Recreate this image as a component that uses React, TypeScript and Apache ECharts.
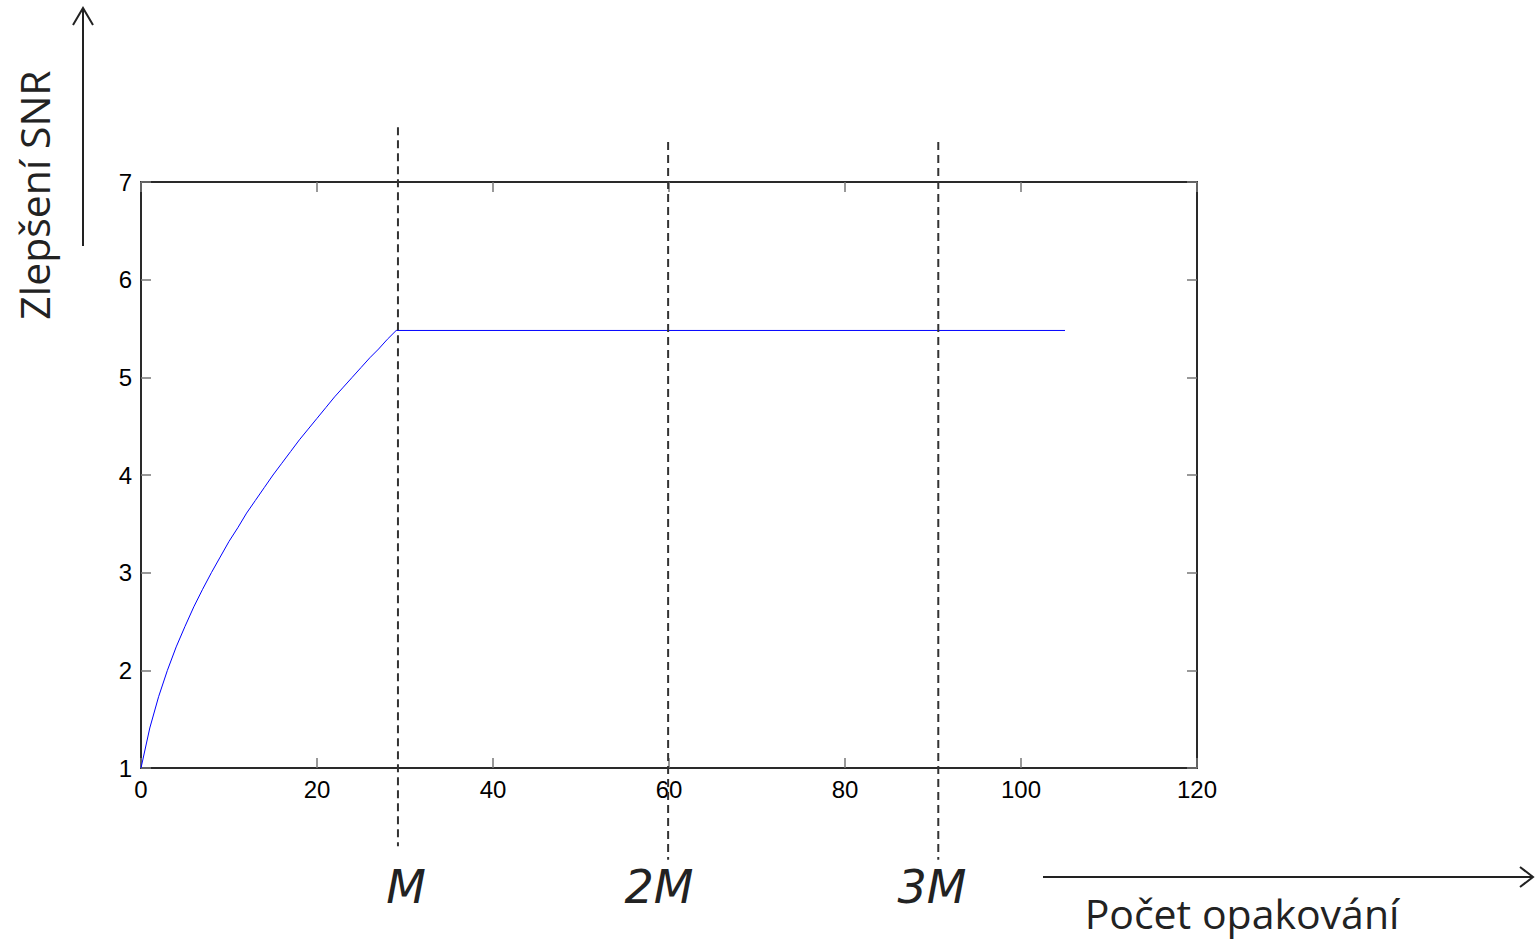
import React, { useEffect, useRef } from "react";
import * as echarts from "echarts";

// Curve: number of repetitions (x) vs SNR improvement (y)
const curveX = [0, 1, 2, 3, 4, 5, 6, 7, 8, 9, 10, 11, 12, 13, 14, 15, 16, 17, 18, 19, 20, 21, 22, 23, 24, 25, 26, 27, 28, 29, 105];
const curveY = [1.0, 1.41, 1.73, 2.0, 2.24, 2.45, 2.65, 2.83, 3.0, 3.16, 3.32, 3.46, 3.61, 3.74, 3.87, 4.0, 4.12, 4.24, 4.36, 4.47, 4.58, 4.69, 4.8, 4.9, 5.0, 5.1, 5.2, 5.29, 5.39, 5.48, 5.48];

// Dashed marker lines (M, 2M, 3M) on the x scale, with their vertical extents in y units
const markerX = [29.2, 59.9, 90.6];
const markerTop = [7.56, 7.41, 7.41];
const markerBottom = [0.2, 0.06, 0.06];
const markerLabels = ["M", "2M", "3M"];

const xTicks = { min: 0, max: 120, interval: 20 };
const yTicks = { min: 1, max: 7, interval: 1 };

const yTitle = "Zlepšení SNR";
const xTitle = "Počet opakování";

export default function App() {
  const ref = useRef<HTMLDivElement>(null);

  useEffect(() => {
    if (!ref.current) return;
    const chart = echarts.init(ref.current, null, { renderer: "svg" });
    const axisLine = { show: true, onZero: false, lineStyle: { color: "#2a2a2a", width: 2 } };
    const axisTick = { show: true, inside: true, length: 10, lineStyle: { color: "#777", width: 1.5 } };
    const labelStyle = { color: "#000", fontFamily: "Liberation Sans", fontSize: 24 };

    const data = curveX.map((x, i) => [x, curveY[i]]);
    const markers = markerX.map((x, i) => [x, markerTop[i], markerBottom[i], i]);

    chart.setOption({
      animation: false,
      backgroundColor: "#fff",
      grid: { left: 141, right: 341, top: 182, bottom: 174, containLabel: false },
      xAxis: [
        {
          type: "value",
          position: "bottom",
          ...xTicks,
          axisLine,
          axisTick,
          splitLine: { show: false },
          axisLabel: { ...labelStyle, margin: 9 },
        },
        {
          type: "value",
          position: "top",
          ...xTicks,
          axisLine,
          axisTick,
          splitLine: { show: false },
          axisLabel: { show: false },
        },
      ],
      yAxis: [
        {
          type: "value",
          position: "left",
          ...yTicks,
          axisLine,
          axisTick,
          splitLine: { show: false },
          axisLabel: { ...labelStyle, margin: 9 },
        },
        {
          type: "value",
          position: "right",
          ...yTicks,
          axisLine,
          axisTick,
          splitLine: { show: false },
          axisLabel: { show: false },
        },
      ],
      series: [
        {
          type: "line",
          xAxisIndex: 0,
          yAxisIndex: 0,
          data,
          showSymbol: false,
          symbol: "none",
          lineStyle: { color: "#0000ff", width: 1 },
          z: 5,
        },
        {
          type: "custom",
          xAxisIndex: 0,
          yAxisIndex: 0,
          clip: false,
          data: markers,
          renderItem: (params: any, api: any) => {
            const x = api.value(0);
            const p1 = api.coord([x, api.value(1)]);
            const p2 = api.coord([x, api.value(2)]);
            return {
              type: "line",
              shape: { x1: p1[0], y1: p1[1], x2: p2[0], y2: p2[1] },
              style: { stroke: "#333", lineWidth: 2, lineDash: [8, 5] },
            };
          },
          z: 6,
        },
      ],
      graphic: [
        // marker labels
        ...markerLabels.map((t, i) => ({
          type: "text",
          x: [406, 659, 932][i],
          y: 887,
          style: {
            text: t,
            fill: "#222",
            font: "oblique 46px 'DejaVu Sans'",
            align: "center",
            verticalAlign: "middle",
          },
        })),
        // Y title
        {
          type: "text",
          x: 34,
          y: 195,
          rotation: Math.PI / 2,
          style: {
            text: yTitle,
            fill: "#222",
            font: "41px 'Open Sans'",
            align: "center",
            verticalAlign: "middle",
          },
        },
        // Y arrow
        { type: "line", shape: { x1: 83, y1: 246, x2: 83, y2: 8 }, style: { stroke: "#222", lineWidth: 2 } },
        { type: "polyline", shape: { points: [[73, 25], [83, 8], [93, 25]] }, style: { stroke: "#222", lineWidth: 2, fill: null } },
        // X title
        {
          type: "text",
          x: 1242,
          y: 913,
          style: {
            text: xTitle,
            fill: "#222",
            font: "41px 'Open Sans'",
            align: "center",
            verticalAlign: "middle",
          },
        },
        // X arrow
        { type: "line", shape: { x1: 1043, y1: 877, x2: 1532, y2: 877 }, style: { stroke: "#222", lineWidth: 2 } },
        { type: "polyline", shape: { points: [[1520, 867], [1533, 877], [1520, 887]] }, style: { stroke: "#222", lineWidth: 2, fill: null } },
      ],
    });
    return () => chart.dispose();
  }, []);

  return (
    <div
      ref={ref}
      style={{ position: "fixed", left: 0, top: 0, width: 1538, height: 942, background: "#fff" }}
    />
  );
}
